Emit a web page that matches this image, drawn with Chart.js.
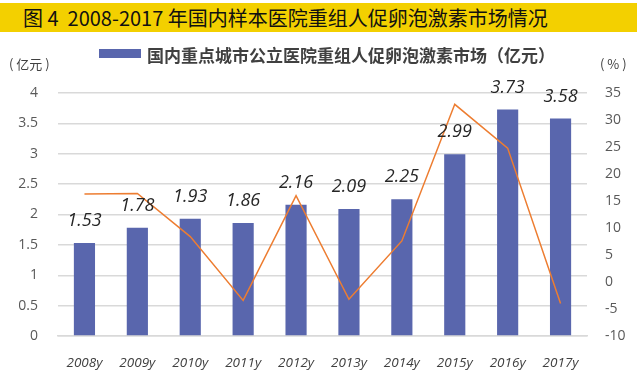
<!DOCTYPE html>
<html lang="zh">
<head>
<meta charset="UTF-8">
<title>2008-2017 年国内样本医院重组人促卵泡激素市场情况</title>
<script src="https://cdn.jsdelivr.net/npm/chart.js"></script>
<style>
  html, body { margin: 0; padding: 0; background: #fff; }
  #wrap { position: relative; width: 637px; height: 384px; overflow: hidden; }
  #titlebar {
    position: absolute; left: 0; top: 3px; width: 637px; height: 29px;
    background: #f3d000; color: #111;
    font: 20px "Noto Sans CJK SC", sans-serif; line-height: 29px;
    padding-left: 23px; box-sizing: border-box; white-space: pre; z-index: 2;
  }
  #chartbox { position: absolute; left: 0; top: 0; width: 637px; height: 384px; }
</style>
</head>
<body>
<div id="wrap">
  <div id="titlebar">图 4  2008-2017 年国内样本医院重组人促卵泡激素市场情况</div>
  <div id="chartbox"><canvas id="grafica"></canvas></div>
</div>
<script>
  // datos
  const years = ['2008y', '2009y', '2010y', '2011y', '2012y', '2013y', '2014y', '2015y', '2016y', '2017y'];
  const marketValues = [1.53, 1.78, 1.93, 1.86, 2.16, 2.09, 2.25, 2.99, 3.73, 3.58];
  const growthRates = [16.3, 16.4, 8.4, -3.4, 16.0, -3.2, 7.6, 32.9, 24.8, -4.0];
  const barLabel = '国内重点城市公立医院重组人促卵泡激素市场（亿元）';
  const leftUnit = '( 亿元 )';
  const rightUnit = '( % )';

  const latin = '"Open Sans", "Liberation Sans", sans-serif';
  const cjk = '"Noto Sans CJK SC", sans-serif';

  // leyenda, unidades y etiquetas de valores
  const extras = {
    id: 'extras',
    afterDraw(chart) {
      const ctx = chart.ctx;
      const ds = chart.data.datasets[0];
      ctx.save();
      // leyenda
      ctx.fillStyle = ds.backgroundColor;
      ctx.fillRect(99, 49, 42, 9);
      ctx.fillStyle = '#404040';
      ctx.font = 'bold 17px ' + cjk;
      ctx.textBaseline = 'middle';
      ctx.textAlign = 'left';
      ctx.fillText(ds.label, 147, 56);
      // unidades
      ctx.fillStyle = '#404040';
      ctx.font = '13px ' + cjk;
      ctx.fillText(leftUnit, 9, 64);
      ctx.fillText(rightUnit, 600, 64);
      // valores sobre las barras
      const meta = chart.getDatasetMeta(0);
      ctx.fillStyle = '#262626';
      ctx.font = 'italic 18px ' + latin;
      ctx.textAlign = 'center';
      meta.data.forEach((bar, i) => {
        ctx.fillText(ds.data[i].toFixed(2), bar.x, bar.y - 22);
      });
      ctx.restore();
    }
  };

  const ctx = document.getElementById('grafica').getContext('2d');
  new Chart(ctx, {
    data: {
      labels: years,
      datasets: [{
        type: 'bar',
        label: barLabel,
        data: marketValues,
        backgroundColor: '#5966ad',
        barPercentage: 0.4,
        categoryPercentage: 1,
        yAxisID: 'y',
        order: 2
      }, {
        type: 'line',
        label: '增长率（%）',
        data: growthRates,
        borderColor: '#ed7d31',
        borderWidth: 1.5,
        pointRadius: 0,
        tension: 0,
        fill: false,
        yAxisID: 'y1',
        order: 1
      }]
    },
    options: {
      responsive: true,
      maintainAspectRatio: false,
      animation: false,
      layout: { padding: { top: 93, left: 0, right: 0, bottom: 0 } },
      plugins: {
        legend: { display: false },
        title: { display: false },
        tooltip: { enabled: false }
      },
      scales: {
        x: {
          grid: { display: false },
          border: { color: '#d9d9d9', width: 1.5 },
          ticks: {
            color: '#404040',
            padding: 11,
            font: { family: latin, size: 13.5, style: 'italic' }
          },
          afterFit(scale) { scale.height = 48; }
        },
        y: {
          position: 'left',
          min: 0, max: 4,
          grid: { color: '#d9d9d9', lineWidth: 1.5, drawTicks: false },
          border: { display: false },
          ticks: {
            stepSize: 0.5,
            color: '#595959',
            padding: 20,
            font: { family: latin, size: 14 },
            callback: (v) => String(Number(v))
          },
          afterFit(scale) { scale.width = 58; }
        },
        y1: {
          position: 'right',
          min: -10, max: 35,
          grid: { display: false, drawTicks: false },
          border: { display: false },
          ticks: {
            stepSize: 5,
            color: '#595959',
            padding: 18,
            font: { family: latin, size: 14 }
          },
          afterFit(scale) { scale.width = 50; }
        }
      }
    },
    plugins: [extras]
  });
</script>
</body>
</html>
